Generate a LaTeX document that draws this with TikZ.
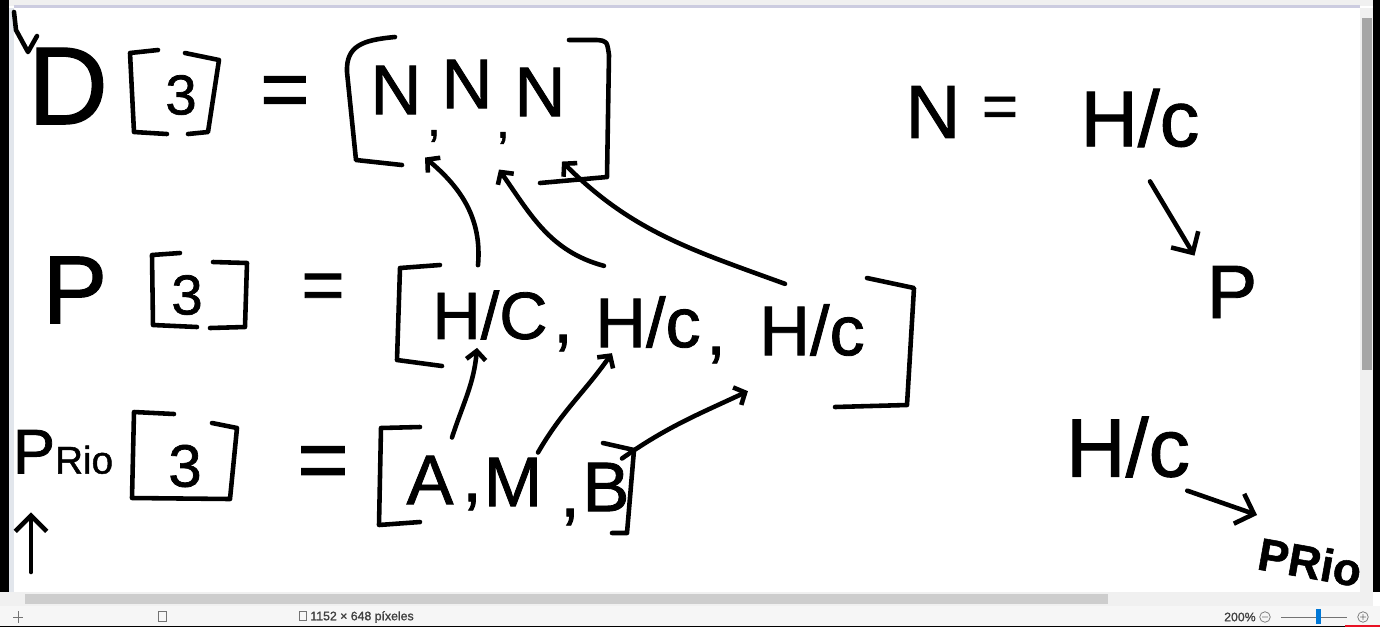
\documentclass[tikz,border=0pt]{standalone}
\usepackage{fontspec}
\setmainfont{Liberation Sans}[FakeBold=1.2]
\usetikzlibrary{arrows.meta, positioning, calc}
\definecolor{clrInk}{RGB}{0,0,0}
\definecolor{clrFrame}{RGB}{240,240,240}
\definecolor{clrLav}{RGB}{204,204,224}
\definecolor{clrSide}{RGB}{226,230,236}
\definecolor{clrThumb}{RGB}{166,166,166}
\definecolor{clrHBar}{RGB}{205,205,205}
\definecolor{clrStatus}{RGB}{246,246,246}
\definecolor{clrSlider}{RGB}{0,120,215}
\definecolor{clrRed}{RGB}{232,17,35}

\begin{document}
\begin{tikzpicture}[
  x=0.02cm, y=-0.02cm,
  pen/.style={draw=clrInk, line width=2.6pt, line cap=round, line join=round},
  arrow/.style={pen, -{Straight Barb[length=5pt,width=11pt]}},
  bigarrow/.style={pen, -{Straight Barb[length=9pt,width=18pt]}},
  ink/.style={inner sep=0pt, text=clrInk},
  hand/.style={ink, font=\fontsize{#1}{#1}\selectfont},
  handbold/.style={ink, font=\fontsize{#1}{#1}\selectfont\bfseries},
  ui/.style={inner sep=0pt, font=\fontsize{7}{7}\selectfont, text=black!75}
]
\useasboundingbox (0,0) rectangle (1380,627);

% window around the drawing
\fill[white] (0,0) rectangle (1380,627);
\fill[clrFrame] (0,0) rectangle (1380,6);
\fill[clrLav] (14,5) rectangle (1360,8);
\fill[black] (0,0) rectangle (9,592);
\fill[clrSide] (9,8) rectangle (14,592);
\fill[clrFrame] (1360,8) rectangle (1373,592);
\fill[clrThumb] (1362,18) rectangle (1372,370);
\fill[black] (1373,0) rectangle (1380,592);
\fill[clrFrame] (0,592) rectangle (1373,606);
\fill[clrHBar] (25,594) rectangle (1108,604);
\fill[clrStatus] (0,606) rectangle (1380,626);
\fill[black] (0,626) rectangle (1345,627);
\fill[clrRed] (1345,625) rectangle (1380,627);
\draw[black!55] (18,611) -- (18,623) (13,617) -- (23,617);
\draw[black!55] (158,611) rectangle (166,621);
\draw[black!55] (299,611) rectangle (306,620);
\node[ui, anchor=west] (sizeinfo) at (310,617) {1152 × 648 píxeles};
\node[ui, anchor=east] (zoominfo) at (1256,617) {200\%};
\draw[black!55] (1265,617) circle[radius=3pt] (1262,617) -- (1268,617);
\draw[black!55] (1281,617) -- (1347,617);
\fill[clrSlider] (1316,609) rectangle (1321,624);
\draw[black!55] (1363,617) circle[radius=3pt] (1360,617) -- (1366,617) (1363,614) -- (1363,620);

% D[3] = [N, N, N]
\draw[pen] (14,12) -- (16,30) -- (28,52) -- (37,36);
\node[hand=63] (dname) at (68,86) {D};
\node[hand=32] (dsize) at (181,95) {3};
\draw[pen] (158,50) -- (130,53) -- (134,132) -- (167,134);
\draw[pen] (185,53) -- (219,60) -- (208,132) -- (188,134);
\node[hand=48] (deq) at (285,97) {=};
\draw[pen] (395,37) .. controls (362,40) and (346,46) .. (347,72) -- (356,160) -- (402,165);
\draw[pen] (569,40) -- (597,40) .. controls (607,41) .. (609,55) -- (607,177) -- (540,183);
\node[hand=40] (dn1) at (396,90) {N};
\node[hand=28] (dc1) at (434,136) {,};
\node[hand=40] (dn2) at (467,84) {N};
\node[hand=28] (dc2) at (503,138) {,};
\node[hand=40] (dn3) at (540,92) {N};

% P[3] = [H/C, H/c, H/c]
\node[hand=55] (pname) at (75,290) {P};
\node[hand=32] (psize) at (187,295) {3};
\draw[pen] (180,253) -- (152,255) -- (153,325) -- (197,327);
\draw[pen] (213,262) -- (247,263) -- (245,327) -- (210,328);
\node[hand=42] (peq) at (323,292) {=};
\draw[pen] (440,265) -- (400,268) -- (397,360) -- (442,366);
\node[hand=38] (pc1) at (490,315) {H/C};
\node[hand=40] (pk1) at (563,343) {,};
\node[hand=40] (pc2) at (648,322) {H/c};
\node[hand=40] (pk2) at (716,355) {,};
\node[hand=40] (pc3) at (812,330) {H/c};
\draw[pen] (867,278) -- (914,288) -- (907,405) -- (835,407);

% Prio[3] = [A, M, B]
\node[hand=36] (prio) at (63,452) {P{\fontsize{22}{22}\selectfont Rio}};
\node[hand=34] (qsize) at (185,466) {3};
\draw[pen] (174,414) -- (134,412) -- (132,498) -- (230,499) -- (237,428) -- (212,423);
\node[hand=50] (qeq) at (323,468) {=};
\draw[pen] (420,427) -- (381,428) -- (379,525) -- (420,522);
\node[hand=40] (qa) at (430,480) {A};
\node[hand=40] (qk1) at (472,502) {,};
\node[hand=40] (qm) at (513,482) {M};
\node[hand=40] (qk2) at (570,517) {,};
\node[hand=40] (qb) at (606,487) {B};
\draw[pen] (603,443) -- (634,450) -- (627,533) -- (612,533);
\coordinate (upfoot) at (31,572);
\draw[bigarrow] (upfoot) -- ($(prio.south)+(-32,38)$);

% links between the rows
\draw[arrow] ($(pc1.north)+(-12,-25)$) to[out=85,in=-40] ($(dn1.south)+(29,43)$);
\draw[arrow] ($(pc2.north west)+(9,-30)$) to[out=165,in=-55] ($(dn2.south)+(32,61)$);
\draw[arrow] ($(pc3.north)+(-27,-20)$) to[out=160,in=-45] ($(dn3.south)+(22,45)$);
\draw[arrow] ($(qa.north)+(22,-18)$) to[out=72,in=-95] ($(pc1.south)+(-13,8)$);
\draw[arrow] ($(qm.north)+(25,-5)$) to[out=60,in=-125] ($(pc2.south west)+(17,5)$);
\draw[arrow] ($(qb.north)+(16,-4)$) to[out=35,in=-155] ($(pc3.south west)+(-11,35)$);

% notes on the right
\node[hand=43] (defn) at (933,112) {N};
\node[hand=35] (defeq) at (1000,112) {=};
\node[hand=45] (defhc) at (1140,118) {H/c};
\node[hand=43] (defp) at (1232,292) {P};
\draw[bigarrow] ($(defhc.south)+(10,34)$) -- ($(defp.north west)+(-12,-10)$);
\node[hand=47] (lasthc) at (1128,447) {H/c};
\node[handbold=26, rotate=-10] (lastprio) at (1310,562) {PRio};
\draw[bigarrow] ($(lasthc.south east)+(-3,13)$) -- ($(lastprio.center)+(-53,-47)$);
\end{tikzpicture}
\end{document}
